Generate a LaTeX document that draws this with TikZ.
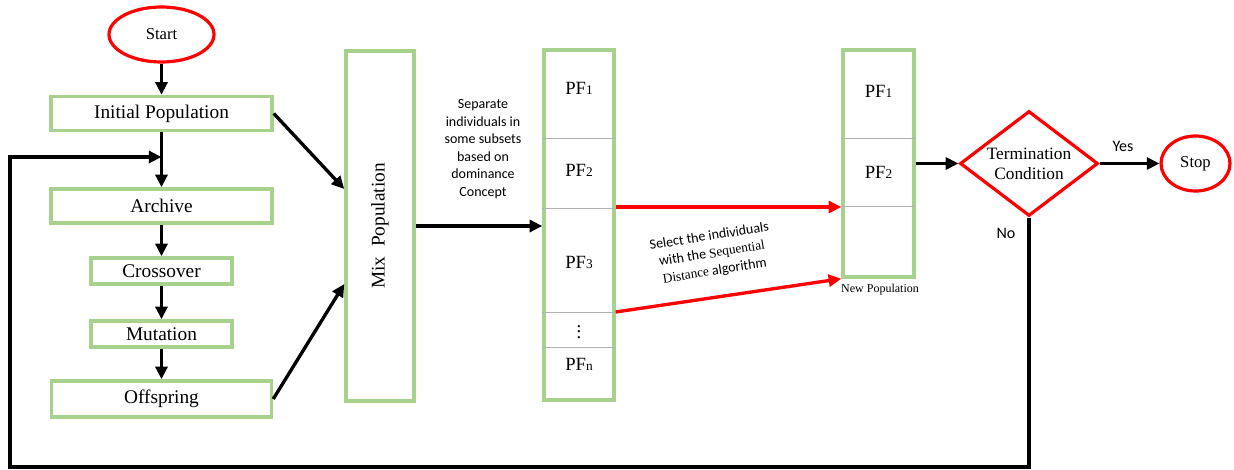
\documentclass[tikz,border=0pt]{standalone}
\usepackage{fontspec}
\setmainfont{Liberation Serif}
\newfontfamily\notefont{Carlito}
\usetikzlibrary{shapes.geometric, arrows.meta}
\definecolor{boxgreen}{HTML}{A9D18E}
\newcommand{\pflabel}[1]{PF{\fontsize{10}{12}\selectfont #1}}
\begin{document}
\begin{tikzpicture}[
    x=0.75pt, y=-0.75pt,
    box/.style={rectangle, draw=boxgreen, line width=2.6pt, fill=white, inner sep=0pt, font=\fontsize{14.5}{17}\selectfont},
    term/.style={ellipse, draw=red, line width=2.4pt, inner sep=0pt, font=\fontsize{12.5}{15}\selectfont},
    arr/.style={-{Triangle[length=9.5pt,width=9pt]}, line width=2.5pt},
    redarr/.style={arr, draw=red, fill=red},
    divider/.style={draw=gray!60, line width=0.5pt},
    pftext/.style={font=\fontsize{14}{16}\selectfont},
    note/.style={font=\notefont\fontsize{10.5}{13.2}\selectfont, align=center}
]
\useasboundingbox (0,0) rectangle (1234,470);

% Left column
\node[term, minimum width=78.75pt, minimum height=41.25pt] (start) at (161.5,34.5) {Start};
\node[box, minimum width=165.75pt, minimum height=25.5pt] (init) at (161.5,113.5) {Initial Population};
\node[box, minimum width=165.75pt, minimum height=25.5pt] (archive) at (161.5,206) {Archive};
\node[box, minimum width=105.75pt, minimum height=19.5pt] (cross) at (161.5,271) {Crossover};
\node[box, minimum width=105.75pt, minimum height=19.5pt] (mut) at (161.5,334) {Mutation};
\node[box, minimum width=165pt, minimum height=27pt] (offs) at (161.5,399) {Offspring};

% Mix population
\node[box, minimum width=51pt, minimum height=262.5pt] (mix) at (380,226) {};
\node[rotate=90, font=\fontsize{14.5}{17}\selectfont] (mixlabel) at (mix.center) {Mix~~Population};

% Fronts
\node[box, minimum width=52.5pt, minimum height=262.5pt] (pfs) at (579,225) {};
\foreach \y in {138,208,312,347}
    \draw[divider] (pfs.west |- 0,\y) -- (pfs.east |- 0,\y);
\node[pftext] (pf1) at (579,88) {\pflabel{1}};
\node[pftext] (pf2) at (579,170) {\pflabel{2}};
\node[pftext] (pf3) at (579,262) {\pflabel{3}};
\node[inner sep=0pt, font=\fontsize{14}{14}\selectfont] (pfdots) at (579,328) {$\vdots$};
\node[pftext] (pfn) at (579,364) {\pflabel{n}};

% New population
\node[box, minimum width=53.25pt, minimum height=170.25pt] (newpop) at (878.5,163.5) {};
\foreach \y in {138,206}
    \draw[divider] (newpop.west |- 0,\y) -- (newpop.east |- 0,\y);
\node[pftext] (npf1) at (878.5,91) {\pflabel{1}};
\node[pftext] (npf2) at (878.5,172) {\pflabel{2}};
\node[font=\fontsize{9}{11}\selectfont] (newlabel) at (880,290) {New Population};

% Termination
\node[diamond, draw=red, line width=2.4pt, inner sep=0pt, shape aspect=1.3, minimum width=103.5pt, minimum height=78.75pt, align=center, font=\fontsize{13}{15}\selectfont] (cond) at (1029,163.5) {Termination\\Condition};
\node[term, minimum width=51.75pt, minimum height=41.25pt] (stop) at (1195.5,163.5) {Stop};
\node[font=\notefont\fontsize{12}{14}\selectfont] (yes) at (1123,146) {Yes};
\node[font=\notefont\fontsize{12}{14}\selectfont] (no) at (1006,233) {No};

% Notes
\node[note] (sepnote) at (483,149) {Separate\\individuals in\\some subsets\\based on\\dominance\\Concept};
\node[note, rotate=9] (selnote) at (712,254) {Select the individuals\\with the {\rmfamily\fontsize{10}{13}\selectfont Sequential}\\{\rmfamily\fontsize{10}{13}\selectfont Distance} algorithm};

% Arrows
\draw[arr] (start) -- (init);
\draw[arr] (init) -- (archive);
\draw[arr] (archive) -- (cross);
\draw[arr] (cross) -- (mut);
\draw[arr] (mut) -- (offs);
\draw[arr] (init.east) -- (mix.west |- 0,189);
\draw[arr] (offs.east) -- (mix.west |- 0,284);
\draw[arr] (mix.east) -- (pfs.west |- mix.east);
\draw[redarr] (pfs.east |- 0,207) -- (newpop.west |- 0,207);
\draw[redarr] (pfs.east |- 0,312) -- (newpop.south west);
\draw[arr] (newpop.east) -- (cond.west);
\draw[arr] (cond.east) -- (stop.west);

% Loop back
\coordinate (loopbl) at (10,467);
\coordinate (loopjoin) at (161.5,157);
\draw[arr] (cond.south) |- (loopbl) |- (loopjoin);
\end{tikzpicture}
\end{document}
